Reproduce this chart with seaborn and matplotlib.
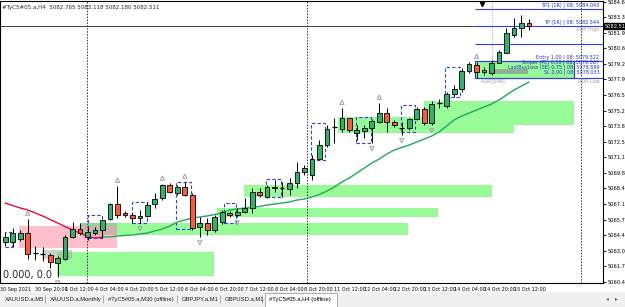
import numpy as np
import pandas as pd
import matplotlib.pyplot as plt
import seaborn as sns
from matplotlib.patches import Rectangle

# H4 bars (30 Sep 04:00 .. 15 Oct 12:00)
opens = [5063.84, 5063.84, 5064.10, 5064.61, 5062.90, 5062.80, 5062.71, 5062.02, 5062.36, 5064.27,
         5064.96, 5064.27, 5064.61, 5064.87, 5065.83, 5067.12, 5066.35, 5066.17, 5065.91, 5066.09,
         5067.12, 5067.64, 5068.77, 5068.08, 5068.60, 5067.90, 5065.13, 5065.48, 5064.87, 5065.57,
         5066.35, 5066.17, 5066.43, 5066.78, 5068.16, 5067.73, 5068.60, 5068.51, 5068.42, 5068.94,
         5069.89, 5069.64, 5071.02, 5072.23, 5073.70, 5073.62, 5074.57, 5073.27, 5073.44, 5073.70,
         5074.22, 5075.00, 5074.22, 5073.75, 5073.70, 5074.48, 5075.35, 5074.14, 5075.82, 5075.61,
         5076.65, 5077.08, 5078.64, 5079.16, 5078.55, 5078.47, 5079.33, 5080.20, 5081.76, 5082.36,
         5082.765]
highs = [5064.61, 5065.05, 5064.87, 5065.83, 5063.49, 5063.40, 5062.88, 5062.62, 5064.44, 5065.57,
         5065.48, 5065.13, 5065.13, 5065.83, 5067.21, 5068.68, 5066.52, 5066.35, 5066.61, 5067.30,
         5068.08, 5068.86, 5068.94, 5068.77, 5069.03, 5068.08, 5066.00, 5065.91, 5066.17, 5066.61,
         5066.52, 5066.78, 5067.64, 5068.51, 5068.51, 5068.77, 5069.20, 5069.03, 5069.38, 5070.76,
         5070.50, 5071.37, 5072.67, 5073.96, 5074.57, 5075.43, 5074.57, 5073.96, 5073.96, 5074.48,
         5075.87, 5075.43, 5074.40, 5074.22, 5074.57, 5075.52, 5075.52, 5076.04, 5076.22, 5076.82,
         5077.43, 5078.90, 5079.42, 5079.42, 5078.99, 5079.59, 5080.46, 5082.36, 5083.23, 5083.49,
         5083.118]
lows = [5063.49, 5063.40, 5063.92, 5062.36, 5062.28, 5062.19, 5061.58, 5060.80, 5062.28, 5064.20,
        5064.44, 5064.01, 5064.44, 5064.18, 5065.74, 5065.91, 5066.00, 5065.48, 5065.48, 5066.00,
        5066.78, 5067.47, 5068.08, 5067.90, 5067.82, 5064.87, 5064.27, 5064.44, 5064.70, 5065.39,
        5066.00, 5066.00, 5066.35, 5066.35, 5067.73, 5067.64, 5068.16, 5067.73, 5067.90, 5068.51,
        5069.64, 5069.20, 5070.93, 5072.06, 5072.41, 5073.36, 5073.36, 5072.67, 5072.84, 5072.41,
        5074.14, 5073.36, 5073.79, 5073.10, 5073.53, 5074.40, 5073.96, 5073.96, 5075.43, 5075.43,
        5076.39, 5076.82, 5078.47, 5078.03, 5078.29, 5078.29, 5079.33, 5080.20, 5081.58, 5081.58,
        5082.180]
closes = [5064.27, 5064.61, 5064.61, 5062.80, 5062.85, 5062.82, 5062.10, 5062.45, 5064.27, 5064.96,
          5064.61, 5064.70, 5064.87, 5065.74, 5067.12, 5066.17, 5066.17, 5065.91, 5066.09, 5067.04,
          5067.56, 5068.77, 5068.16, 5068.60, 5067.90, 5065.05, 5065.48, 5064.87, 5066.00, 5066.43,
          5066.17, 5066.43, 5066.78, 5068.16, 5067.90, 5068.60, 5068.51, 5068.51, 5068.94, 5069.89,
          5070.24, 5071.02, 5072.23, 5073.62, 5073.75, 5074.57, 5073.53, 5073.53, 5073.70, 5074.31,
          5075.00, 5074.22, 5073.96, 5073.70, 5074.48, 5075.35, 5074.14, 5075.78, 5075.87, 5076.65,
          5077.08, 5078.64, 5079.25, 5078.55, 5078.73, 5079.33, 5080.29, 5081.93, 5082.36, 5082.79,
          5082.511]

# two-colour moving average
ma_red = [5067.21, 5066.99, 5066.78, 5066.61, 5066.35, 5066.09, 5065.78, 5065.48, 5065.18, 5064.87,
          5064.61, 5064.31, 5064.18, 5064.27]
ma_green = [5064.27, 5064.27, 5064.35, 5064.40, 5064.44, 5064.53, 5064.61, 5064.79, 5064.96, 5065.22,
            5065.57, 5065.74, 5065.91, 5066.00, 5066.09, 5066.22, 5066.35, 5066.61, 5066.69, 5066.78,
            5066.82, 5066.91, 5067.04, 5067.12, 5067.21, 5067.30, 5067.47, 5067.56, 5067.73, 5067.95,
            5068.25, 5068.60, 5069.03, 5069.38, 5069.81, 5070.24, 5070.67, 5071.02, 5071.45, 5071.80,
            5072.02, 5072.23, 5072.49, 5072.75, 5073.01, 5073.36, 5073.88, 5074.40, 5074.74, 5075.00,
            5075.26, 5075.52, 5075.78, 5076.13, 5076.56, 5076.99, 5077.34, 5077.69]

x_ticks = [-0.7, 4, 8, 12, 16, 20, 24, 28, 32, 36, 40, 44, 48, 52, 56, 60, 64, 68]
x_labels = ["30 Sep 2021", "30 Sep 20:00", "1 Oct 12:00", "4 Oct 04:00", "4 Oct 20:00", "5 Oct 12:00",
            "6 Oct 04:00", "6 Oct 20:00", "7 Oct 12:00", "8 Oct 04:00", "8 Oct 20:00", "11 Oct 12:00",
            "12 Oct 04:00", "12 Oct 20:00", "13 Oct 12:00", "14 Oct 04:00", "14 Oct 20:00", "15 Oct 12:00"]
y_labels = ["5084.640", "5083.320", "5081.960", "5080.600", "5079.240", "5077.920", "5076.560",
            "5075.200", "5073.880", "5072.520", "5071.160", "5069.800", "5068.480", "5067.120",
            "5065.760", "5064.440", "5063.080", "5061.720", "5060.400"]

# supply / demand zones: (start bar, end bar, low, high)
green_zones = [(6.9, 27.9, 5060.89, 5062.97), (10.0, 53.8, 5064.44, 5065.48),
               (28.3, 57.9, 5066.00, 5066.78), (31.9, 65.1, 5067.73, 5068.77),
               (44.5, 68.0, 5073.30, 5074.66), (56.0, 76.0, 5074.00, 5076.04)]
pink_zones = [(1.9, 14.9, 5063.32, 5065.22)]
grey_zones = [(4.9, 8.9, 5062.36, 5063.14), (10.0, 14.9, 5064.44, 5065.48)]
# dashed blue fractal boxes: (start, end, top, bottom)
frac_boxes = [(0.0, 0.9, 5064.70, 5063.40), (11.0, 12.9, 5066.17, 5064.18),
              (16.9, 19.0, 5067.30, 5065.48), (22.8, 24.8, 5069.03, 5064.96),
              (29.2, 30.9, 5067.21, 5065.48), (34.9, 36.9, 5069.29, 5067.73),
              (40.9, 42.8, 5074.14, 5070.93), (46.9, 48.9, 5074.66, 5072.41),
              (52.9, 54.8, 5075.70, 5073.36), (58.8, 60.8, 5078.99, 5076.39)]
up_fractals = [3, 15, 21, 24, 45, 50, 63]
down_fractals = [7, 18, 26, 31, 49, 53, 57]
separators = [10.9, 40.3, 77.0]

# trade levels on the right
trade_levels = [5084.04, 5082.54, 5080.98, 5079.52, 5078.03]
trade_texts = [("TP1 (1R) | 08: 5084.043", 5084.04), ("TP (1R) | 08: 5082.544", 5082.54),
               ("Entry 1.00 | 08: 5079.522", 5079.52), ("Sniper (PE) 0.50 | 08: 5079.067", 5079.07),
               ("LastBuyLoss (SE) 0.75 | 08: 5078.589", 5078.64), ("SL 0.00 | 08: 5078.033", 5078.19)]
bid = 5082.511

df = pd.DataFrame({"open": opens, "high": highs, "low": lows, "close": closes})
df["bar"] = np.arange(len(df))

sns.set_style("white")
plt.rcParams['font.family'] = ['Liberation Sans Narrow', 'DejaVu Sans']
fig = plt.figure(figsize=(6.25, 3.07), dpi=100)
ax = fig.add_axes([0, 24 / 307, 603 / 625, 282 / 307])

green_c = "#98FB98"
for x0, x1, lo, hi in green_zones:
    ax.add_patch(Rectangle((x0, lo), x1 - x0, hi - lo, color=green_c, lw=0, zorder=1))
for x0, x1, lo, hi in pink_zones:
    ax.add_patch(Rectangle((x0, lo), x1 - x0, hi - lo, color="#FFC0CB", lw=0, zorder=1))
for x0, x1, lo, hi in grey_zones:
    ax.add_patch(Rectangle((x0, lo), x1 - x0, hi - lo, color="#8f9f8f", alpha=0.45, lw=0, zorder=1.5))

# trade box
ax.add_patch(Rectangle((62.8, 5078.03), 13.2, 5079.52 - 5078.03, facecolor=green_c,
                       edgecolor="#2030e0", lw=0.8, zorder=1))
ax.add_patch(Rectangle((65.3, 5078.40), 4.6, 0.42, color="#8fa08f", alpha=0.8, lw=0, zorder=1.5))
for lv in trade_levels:
    ax.hlines(lv, 62.8, 80, color="#3040f0", lw=0.8, zorder=2)
for txt, lv in trade_texts:
    ax.text(79.4, lv + 0.06, txt, fontsize=3.5, color="#2030d0", ha="right", va="bottom", zorder=3)

# bid line
ax.axhline(bid, color="#404040", lw=0.7, zorder=1)

for s in separators:
    ax.axvline(s, color="#333333", lw=0.7, ls=(0, (1.5, 1.5)), zorder=1)
ax.vlines(65.1, 5077.6, 5085, color="#bbbbbb", lw=0.7, ls=(0, (1.5, 1.5)), zorder=1)

for x0, x1, top, bot in frac_boxes:
    ax.add_patch(Rectangle((x0, bot), x1 - x0, top - bot, fill=False, edgecolor="#3040e0",
                           lw=0.8, ls=(0, (3, 2)), zorder=2))

# moving average
sns.lineplot(x=np.arange(len(ma_red)), y=ma_red, color="#e0103a", lw=1.0, ax=ax, zorder=3)
sns.lineplot(x=np.arange(13, 13 + len(ma_green)), y=ma_green, color="#1faa5a", lw=1.0, ax=ax, zorder=3)

# candles
for _, r in df.iterrows():
    ax.vlines(r.bar, r.low, r.high, color="black", lw=0.7, zorder=4)
    body = abs(r.close - r.open)
    if body < 0.07:
        ax.hlines(r.close, r.bar - 0.32, r.bar + 0.32, color="black", lw=0.9, zorder=5)
    else:
        col = "#33b06a" if r.close > r.open else "#fb5b3a"
        ax.bar(r.bar, body, bottom=min(r.open, r.close), width=0.64, color=col,
               edgecolor="black", lw=0.6, zorder=5)

ax.scatter(df.loc[up_fractals, "bar"], df.loc[up_fractals, "high"] + 0.5, marker="^", s=9,
           facecolor="none", edgecolor="#a0a0a0", lw=0.7, zorder=4)
ax.scatter(df.loc[down_fractals, "bar"], df.loc[down_fractals, "low"] - 0.5, marker="v", s=9,
           facecolor="none", edgecolor="#a0a0a0", lw=0.7, zorder=4)

ax.set_xlim(-0.2, 79.9)
ax.set_ylim(5060.285, 5084.70)
ax.yaxis.tick_right()
ax.set_yticks([float(v) for v in y_labels])
ax.set_yticklabels(y_labels)
ax.set_xticks(x_ticks)
ax.set_xticklabels(x_labels, ha="left")
ax.tick_params(axis="y", labelsize=3.7, length=2, width=0.6, colors="black", pad=1.0, direction="out")
ax.tick_params(axis="x", labelsize=3.5, length=2, width=0.6, colors="black", pad=1.2, direction="out")
for sp in ax.spines.values():
    sp.set_color("black")
    sp.set_linewidth(0.8)

ax.text(0.004, 0.985, "#TyC5#05.a,H4  5082.765 5083.118 5082.180 5082.511", transform=ax.transAxes,
        fontsize=4.0, va="top", ha="left")
ax.text(-0.35, 5060.95, "0.000, 0.0", fontsize=7.0, ha="left", va="center", zorder=6,
        family=["DejaVu Sans"])
ax.text(63.6, 5077.75, "ADR 5481", fontsize=3.5, color="#a0a0a0", ha="left", va="center", zorder=3)
ax.text(79.4, 5077.75, "ADR Low", fontsize=3.5, color="#a0a0a0", ha="right", va="center", zorder=3)
ax.text(79.4, 5082.25, "ADR High", fontsize=3.5, color="#a0a0a0", ha="right", va="center", zorder=3)
ax.plot([63.7], [5084.45], marker="v", color="black", ms=3, zorder=6)
ax.text(1.003, bid, "5082.511", transform=ax.get_yaxis_transform(), fontsize=3.7, color="white",
        va="center", ha="left", bbox=dict(boxstyle="square,pad=0.12", fc="black", ec="black"), clip_on=False)

# terminal tab bar
tabs = fig.add_axes([0, 0, 1, 15 / 307])
tabs.set_xlim(0, 625)
tabs.set_ylim(0, 15)
tabs.set_facecolor("#f0f0f0")
tabs.set_xticks([])
tabs.set_yticks([])
for sp in tabs.spines.values():
    sp.set_visible(False)
tab_names = ["XAUUSD.a,M5", "XAUUSD.a,Monthly", "#TyC5#05.a,M30 (offline)", "GBPJPY.a,M1", "GBPUSD.a,M1"]
tab_x = [5, 50, 108, 182, 225]
for name, tx in zip(tab_names, tab_x):
    tabs.text(tx, 8, name, fontsize=4.2, va="center", ha="left", color="#202020",
              family=["Liberation Sans", "DejaVu Sans"])
for sx in [45, 103, 177, 220, 262]:
    tabs.vlines(sx, 4, 12, color="#a0a0a0", lw=0.6)
tabs.add_patch(Rectangle((265, 0), 72, 14.5, facecolor="white", edgecolor="#a0a0a0", lw=0.6))
tabs.text(269, 8, "#TyC5#05.a,H4 (offline)", fontsize=4.2, va="center", ha="left", color="black",
          family=["Liberation Sans", "DejaVu Sans"])
tabs.text(606, 8, "\u25c2", fontsize=4, va="center", color="#606060", family=["DejaVu Sans"])
tabs.text(615, 8, "\u25b8", fontsize=4, va="center", color="#606060", family=["DejaVu Sans"])

fig.savefig("out.png", dpi=100)
